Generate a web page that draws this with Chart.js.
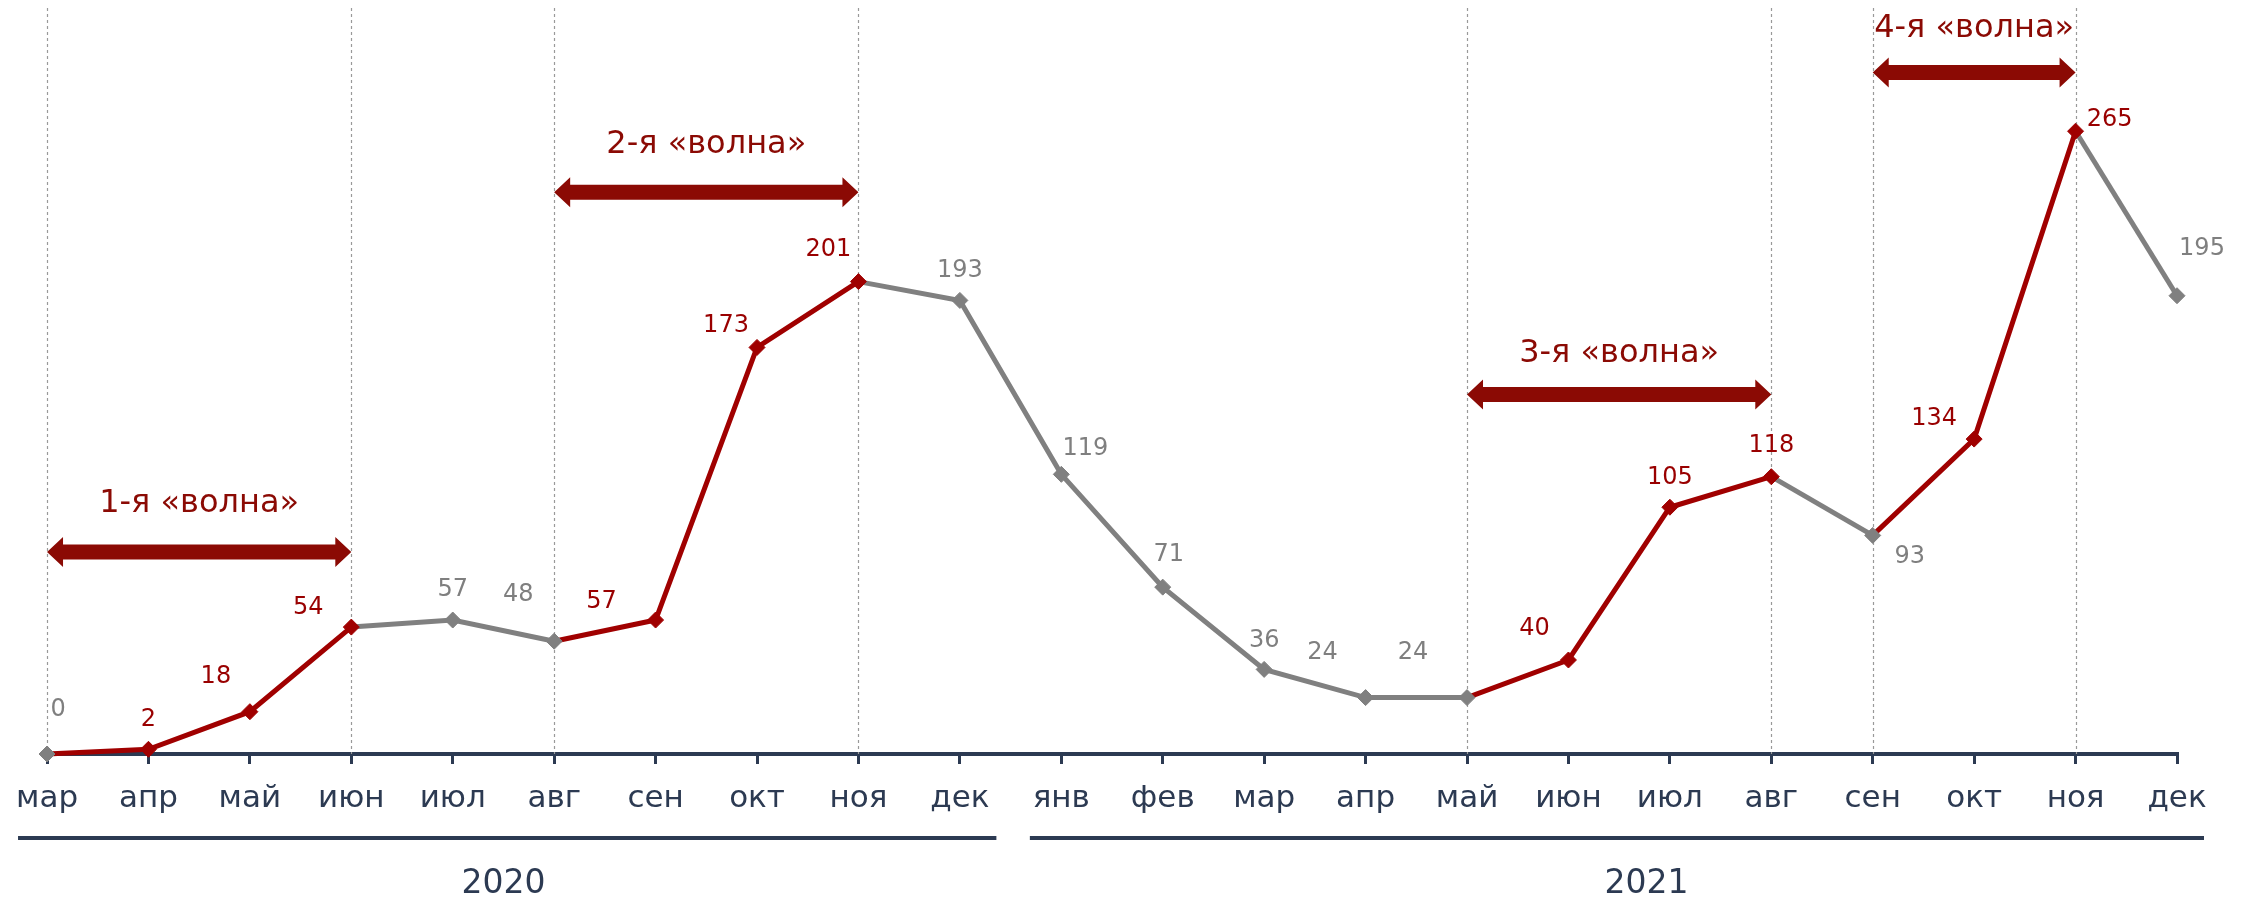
<!DOCTYPE html>
<html lang="ru">
<head>
<meta charset="utf-8">
<title>Волны</title>
<script src="https://cdn.jsdelivr.net/npm/chart.js@4/dist/chart.umd.min.js"></script>
<style>
  html, body { margin: 0; padding: 0; background: #fff; }
  #wrap { width: 2249px; height: 898px; position: relative; }
</style>
</head>
<body>
<div id="wrap"><canvas id="wavesChart"></canvas></div>
<script>
// ---------- данные ----------
const months = ['мар', 'апр', 'май', 'июн', 'июл', 'авг', 'сен', 'окт', 'ноя', 'дек',
                'янв', 'фев', 'мар', 'апр', 'май', 'июн', 'июл', 'авг', 'сен', 'окт', 'ноя', 'дек'];
const values = [0, 2, 18, 54, 57, 48, 57, 173, 201, 193,
                119, 71, 36, 24, 24, 40, 105, 118, 93, 134, 265, 195];
// 1 = точка относится к «волне» (красная)
const inWave = [0, 1, 1, 1, 0, 0, 1, 1, 1, 0,
                0, 0, 0, 0, 0, 1, 1, 1, 0, 1, 1, 0];

const years = ['2020', '2021'];
const yearFrom = [0, 10];
const yearTo = [9, 21];

const waveNames = ['1-я «волна»', '2-я «волна»', '3-я «волна»', '4-я «волна»'];
const waveStart = [0, 5, 14, 18];
const waveEnd = [3, 8, 17, 20];
const waveLevel = [86, 239, 153, 290];   // высота стрелки по оси значений

// смещения подписей значений относительно точки (px)
const labelOffsets = [
    [11, -47], [0, -32], [-34, -37], [-43, -22], [0, -33], [-36, -49], [-54, -21], [-31, -24], [-30, -34], [0, -32],
    [24, -28], [6, -35], [0, -31], [-43, -47], [-54, -47], [-34, -34], [0, -32], [0, -33], [37, 19], [-40, -23], [34, -14], [25, -49]
];
const waveTextGap = [40, 39, 32, 35];

// ---------- стили ----------
const RED = '#a00000';
const RED_TEXT = '#990000';
const DARK_RED = '#8b0a04';
const GREY = '#808080';
const NAVY = '#2c3a52';
const FONT = '"DejaVu Sans", Verdana, sans-serif';

const pointColors = inWave.map(f => f ? RED : GREY);

// ---------- плагин: пунктиры, стрелки, подписи, годы ----------
const decorPlugin = {
    id: 'decor',
    beforeDatasetsDraw(chart) {
        const { ctx, chartArea, scales: { x } } = chart;
        const idx = new Set([...waveStart, ...waveEnd]);
        ctx.save();
        ctx.strokeStyle = '#999999';
        ctx.lineWidth = 1.2;
        ctx.setLineDash([3, 3]);
        idx.forEach(i => {
            const px = Math.round(x.getPixelForValue(i)) + 0.5;
            ctx.beginPath();
            ctx.moveTo(px, 8);
            ctx.lineTo(px, chartArea.bottom);
            ctx.stroke();
        });
        ctx.restore();
    },
    afterDatasetsDraw(chart) {
        const { ctx, scales: { x, y } } = chart;
        ctx.save();

        // стрелки «волн»
        waveNames.forEach((name, k) => {
            const x1 = x.getPixelForValue(waveStart[k]);
            const x2 = x.getPixelForValue(waveEnd[k]);
            const yc = y.getPixelForValue(waveLevel[k]);
            const sh = 7.5, hh = 15, hl = 16;
            ctx.fillStyle = DARK_RED;
            ctx.beginPath();
            ctx.moveTo(x1, yc);
            ctx.lineTo(x1 + hl, yc - hh);
            ctx.lineTo(x1 + hl, yc - sh);
            ctx.lineTo(x2 - hl, yc - sh);
            ctx.lineTo(x2 - hl, yc - hh);
            ctx.lineTo(x2, yc);
            ctx.lineTo(x2 - hl, yc + hh);
            ctx.lineTo(x2 - hl, yc + sh);
            ctx.lineTo(x1 + hl, yc + sh);
            ctx.lineTo(x1 + hl, yc + hh);
            ctx.closePath();
            ctx.fill();

            ctx.font = '32px ' + FONT;
            ctx.textAlign = 'center';
            ctx.textBaseline = 'alphabetic';
            ctx.fillText(name, (x1 + x2) / 2, yc - waveTextGap[k]);
        });

        // подписи значений
        const fs = 24;
        ctx.font = fs + 'px ' + FONT;
        ctx.textAlign = 'center';
        ctx.textBaseline = 'alphabetic';
        values.forEach((v, i) => {
            const px = x.getPixelForValue(i);
            const py = y.getPixelForValue(v);
            ctx.fillStyle = inWave[i] ? RED_TEXT : '#7f7f7f';
            ctx.fillText(String(v), px + labelOffsets[i][0], py + labelOffsets[i][1] + fs * 0.36);
        });

        // годы и скобки под осью
        const bracketY = 838;
        years.forEach((yr, k) => {
            const a = x.getPixelForValue(yearFrom[k]);
            const b = x.getPixelForValue(yearTo[k]);
            const step = x.getPixelForValue(1) - x.getPixelForValue(0);
            const left = k === 0 ? a - 29 : a - step * 0.31;
            const right = k === 0 ? b + step * 0.36 : b + 27;
            ctx.strokeStyle = NAVY;
            ctx.lineWidth = 4;
            ctx.setLineDash([]);
            ctx.beginPath();
            ctx.moveTo(left, bracketY);
            ctx.lineTo(right, bracketY);
            ctx.stroke();

            ctx.fillStyle = NAVY;
            ctx.font = '33px ' + FONT;
            ctx.textAlign = 'center';
            const cx = k === 0 ? (a + b) / 2 : (a + b) / 2 + step * 0.27;
            ctx.fillText(yr, cx, 893);
        });

        ctx.restore();
    }
};

new Chart(document.getElementById('wavesChart'), {
    type: 'line',
    data: {
        labels: months,
        datasets: [{
            data: values,
            borderWidth: 5,
            borderColor: RED,
            segment: {
                borderColor: c => inWave[c.p1DataIndex] ? RED : GREY
            },
            pointStyle: 'rectRot',
            pointRadius: 8,
            pointBackgroundColor: pointColors,
            pointBorderColor: pointColors,
            pointBorderWidth: 1,
            tension: 0,
            clip: false
        }]
    },
    options: {
        responsive: true,
        maintainAspectRatio: false,
        animation: false,
        layout: {
            padding: { left: 43, right: 72, top: 2, bottom: 0 }
        },
        plugins: {
            legend: { display: false },
            tooltip: { enabled: false }
        },
        scales: {
            x: {
                offset: false,
                afterFit: s => { s.height = 144; },
                border: { display: true, color: NAVY, width: 4 },
                grid: {
                    drawOnChartArea: false,
                    drawTicks: true,
                    tickLength: 10,
                    color: NAVY,
                    lineWidth: 3
                },
                ticks: {
                    color: NAVY,
                    font: { family: FONT, size: 31 },
                    padding: 16,
                    maxRotation: 0,
                    autoSkip: false
                }
            },
            y: {
                display: false,
                min: 0,
                max: 317
            }
        }
    },
    plugins: [decorPlugin]
});
</script>
</body>
</html>
